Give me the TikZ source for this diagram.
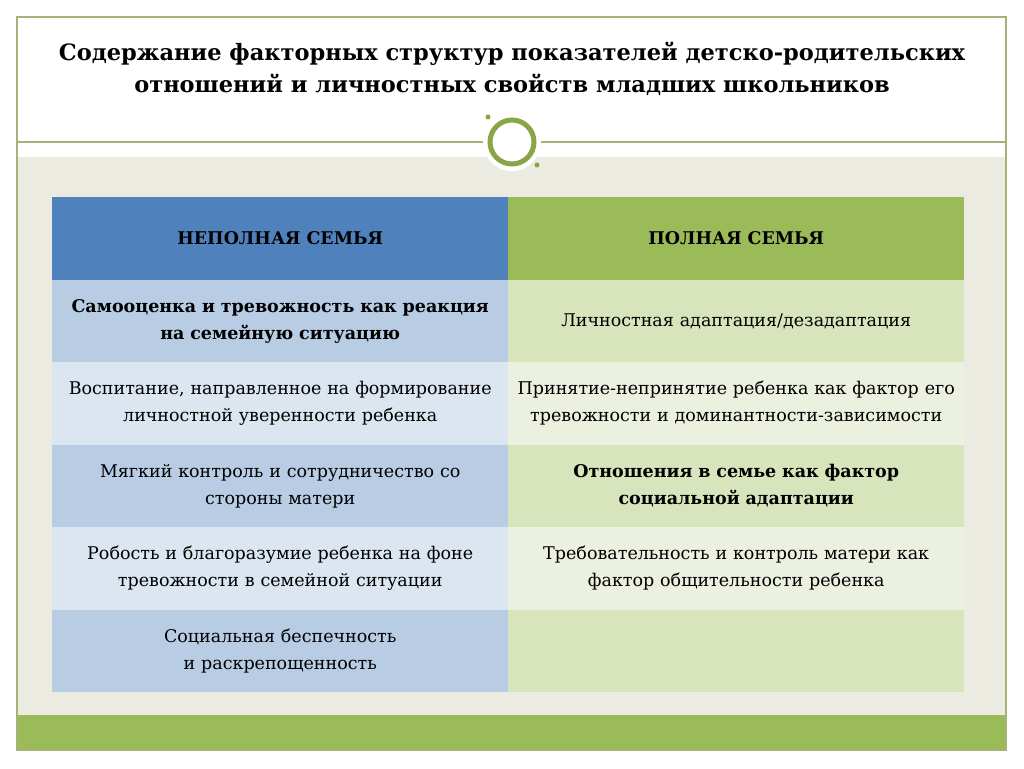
\documentclass[tikz,border=0pt]{standalone}
\usepackage{fontspec}
\setmainfont{DejaVu Serif}
\definecolor{hb}{HTML}{4F81BD}\definecolor{hg}{HTML}{9BBB59}
\definecolor{b1}{HTML}{B8CCE4}\definecolor{b2}{HTML}{DCE6F1}
\definecolor{g1}{HTML}{D7E4BC}\definecolor{g2}{HTML}{EBF1DE}
\definecolor{bg}{HTML}{ECEBE1}\definecolor{fr}{HTML}{A6B27A}\definecolor{ring}{HTML}{86A648}
\begin{document}
\begin{tikzpicture}[x=1pt,y=-1pt,
 cell/.style={minimum width=456pt,minimum height=82.5pt,inner sep=0pt,anchor=north west,align=center,font=\fontsize{17.5}{27}\selectfont,text width=450pt},
 hd/.style={cell,font=\fontsize{17.5}{27}\selectfont\bfseries}]
\useasboundingbox (0,0) rectangle (1024,768);
\fill[white] (0,0) rectangle (1024,768);
\fill[bg] (17,157) rectangle (1006,715);
\fill[hg] (17,715) rectangle (1006,750);
\draw[fr,line width=1.2pt] (17,17) rectangle (1006,750);
\draw[fr,line width=1.5pt] (17,142) -- (1006,142);
\node[font=\fontsize{22.5}{32}\selectfont\bfseries,align=center] (title) at (512,69) {Содержание факторных структур показателей детско-родительских\\отношений и личностных свойств младших школьников};
\fill[white] (512,142) circle (29);
\draw[ring,line width=5pt] (512,142) circle (22);
\fill[ring] (488,117) circle (2.5);
\fill[ring] (537,165) circle (2.5);
\node[hd,fill=hb] (h1) at (52,197) {НЕПОЛНАЯ СЕМЬЯ};
\node[hd,fill=hg] (h2) at (508,197) {ПОЛНАЯ СЕМЬЯ};
\node[hd,fill=b1] (l1) at (52,279.5) {Самооценка и тревожность как реакция\\на семейную ситуацию};
\node[cell,fill=g1] (r1) at (508,279.5) {Личностная адаптация/дезадаптация};
\node[cell,fill=b2] (l2) at (52,362) {Воспитание, направленное на формирование\\личностной уверенности ребенка};
\node[cell,fill=g2] (r2) at (508,362) {Принятие-непринятие ребенка как фактор его\\тревожности и доминантности-зависимости};
\node[cell,fill=b1] (l3) at (52,444.5) {Мягкий контроль и сотрудничество со\\стороны матери};
\node[hd,fill=g1] (r3) at (508,444.5) {Отношения в семье как фактор\\социальной адаптации};
\node[cell,fill=b2] (l4) at (52,527) {Робость и благоразумие ребенка на фоне\\тревожности в семейной ситуации};
\node[cell,fill=g2] (r4) at (508,527) {Требовательность и контроль матери как\\фактор общительности ребенка};
\node[cell,fill=b1] (l5) at (52,609.5) {Социальная беспечность\\и раскрепощенность};
\node[cell,fill=g1] (r5) at (508,609.5) {};
\end{tikzpicture}
\end{document}
